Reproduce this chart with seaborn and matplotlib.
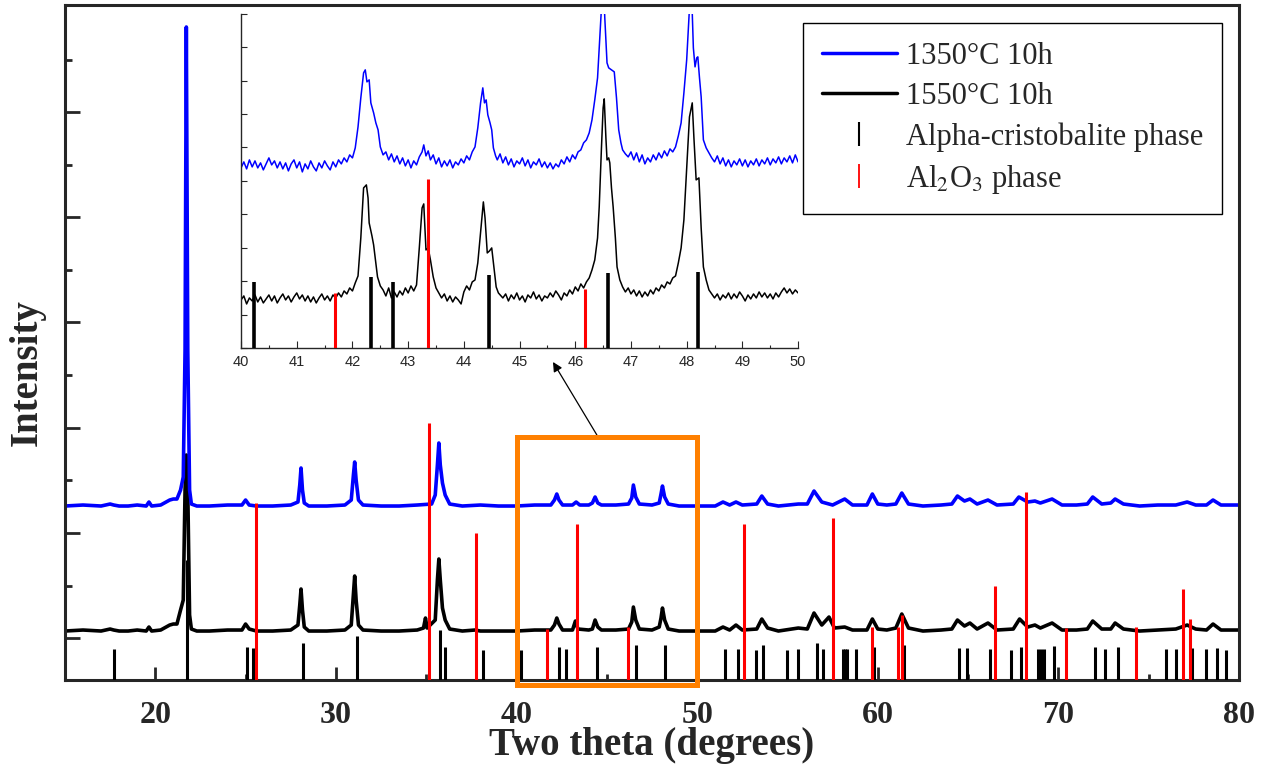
import matplotlib
matplotlib.use("Agg")
import matplotlib.pyplot as plt
import pandas as pd
import seaborn as sns
from matplotlib.lines import Line2D
from matplotlib.patches import Rectangle
from matplotlib.ticker import FixedLocator, MultipleLocator

# ---- data (intensity in arbitrary units) ----
LABEL_LOW = "1350°C 10h"
LABEL_HIGH = "1550°C 10h"

# main pattern, 1350 C sample (offset upward)
MAIN_1350 = [
    (15, 174), (16, 175), (17, 174), (17.5, 176), (17.7, 175), (18, 174), (18.5, 174),
    (19, 175), (19.5, 174), (19.65, 178), (19.8, 174), (20.3, 175), (20.8, 180),
    (21.0, 181), (21.2, 181), (21.4, 190), (21.55, 203), (21.65, 330), (21.72, 653),
    (21.8, 330), (21.9, 190), (22.0, 176), (22.3, 174), (23, 174), (24, 175),
    (24.8, 175), (25.0, 180), (25.2, 175), (25.6, 174), (26.5, 174), (27.5, 175),
    (27.9, 178), (28.0, 195), (28.07, 212), (28.15, 190), (28.25, 177), (28.5, 174),
    (29.5, 174), (30.5, 175), (30.85, 180), (30.97, 205), (31.04, 218), (31.12, 200),
    (31.25, 180), (31.5, 175), (32.5, 174), (33.5, 174), (34.5, 175), (35.3, 176),
    (35.5, 185), (35.62, 215), (35.7, 237), (35.78, 215), (35.9, 197), (36.05, 185),
    (36.3, 176), (37, 174), (38, 175), (39, 174), (40, 174), (41, 175), (41.9, 175),
    (42.1, 180), (42.23, 186), (42.35, 180), (42.55, 175), (43.1, 175), (43.3, 178),
    (43.5, 175), (44.0, 175), (44.2, 177), (44.35, 183), (44.5, 177), (44.7, 175),
    (45.5, 175), (46.2, 176), (46.38, 182), (46.47, 195), (46.6, 183), (46.8, 176),
    (47.5, 175), (47.9, 177), (48.0, 186), (48.08, 194), (48.2, 183), (48.4, 176),
    (49, 174), (50, 174), (51, 174), (51.43, 178), (51.8, 175), (52.15, 178),
    (52.5, 175), (53.3, 176), (53.58, 184), (53.9, 176), (54.5, 174), (55.6, 176),
    (56.1, 176), (56.47, 189), (56.9, 178), (57.5, 175), (58.17, 181), (58.6, 175),
    (59.4, 175), (59.7, 186), (60.0, 176), (60.5, 175), (61.0, 176), (61.33, 187),
    (61.7, 176), (62.5, 174), (63.5, 175), (64.1, 176), (64.41, 184), (64.8, 179),
    (65.1, 181), (65.5, 176), (66.1, 180), (66.6, 175), (67.5, 176), (67.81, 183),
    (68.3, 178), (68.7, 179), (69.0, 177), (69.65, 181), (70.2, 175), (71, 175),
    (71.6, 176), (71.9, 183), (72.4, 176), (72.9, 177), (73.14, 181), (73.6, 176),
    (74.5, 174), (75.5, 175), (76.5, 175), (77.13, 178), (77.6, 175), (78.2, 175),
    (78.56, 180), (79, 175), (80, 175),
]

# main pattern, 1550 C sample
MAIN_1550 = [
    (15, 49), (16, 50), (17, 49), (17.5, 51), (17.7, 50), (18, 49), (18.5, 49),
    (19, 50), (19.5, 49), (19.65, 53), (19.8, 49), (20.3, 50), (20.8, 55),
    (21.0, 56), (21.2, 56), (21.4, 70), (21.55, 80), (21.65, 190), (21.72, 225),
    (21.8, 190), (21.9, 65), (22.0, 51), (22.3, 49), (23, 49), (24, 50), (24.8, 50),
    (25.0, 56), (25.2, 51), (25.6, 49), (26.5, 49), (27.5, 50), (27.9, 55),
    (28.0, 75), (28.07, 91), (28.15, 70), (28.25, 53), (28.5, 49), (29.5, 49),
    (30.5, 50), (30.85, 55), (30.97, 85), (31.04, 104), (31.12, 80), (31.25, 55),
    (31.5, 50), (32.5, 49), (33.5, 49), (34.5, 50), (34.85, 52), (34.96, 62),
    (35.05, 52), (35.5, 60), (35.62, 100), (35.7, 121), (35.78, 100), (35.9, 72),
    (36.05, 60), (36.3, 51), (37, 49), (37.7, 50), (38, 49), (39, 49), (40, 49),
    (41, 50), (41.9, 50), (42.1, 55), (42.23, 62), (42.35, 56), (42.55, 50),
    (43.1, 50), (43.26, 59), (43.4, 51), (44.0, 50), (44.2, 51), (44.35, 60),
    (44.5, 53), (44.7, 50), (45.5, 50), (46.2, 51), (46.38, 58), (46.47, 73),
    (46.6, 60), (46.8, 51), (47.5, 50), (47.9, 53), (48.0, 62), (48.08, 72),
    (48.2, 60), (48.4, 51), (49, 49), (50, 49), (51, 49), (51.43, 53), (51.8, 50),
    (52.15, 55), (52.5, 50), (53.3, 51), (53.58, 61), (53.9, 52), (54.5, 49),
    (55.6, 52), (56.1, 51), (56.47, 67), (56.9, 55), (57.3, 63), (57.6, 52),
    (58.17, 53), (58.6, 50), (59.4, 50), (59.7, 61), (60.0, 51), (60.5, 50),
    (61.0, 52), (61.33, 66), (61.7, 52), (62.5, 49), (63.5, 50), (64.1, 51),
    (64.41, 60), (64.8, 54), (65.1, 57), (65.5, 51), (66.1, 57), (66.6, 50),
    (67.5, 51), (67.85, 61), (68.3, 53), (68.7, 55), (69.0, 52), (69.65, 57),
    (70.2, 50), (71, 50), (71.6, 51), (71.9, 59), (72.4, 51), (72.9, 51),
    (73.14, 57), (73.6, 51), (74.5, 49), (75.5, 50), (76.5, 51), (77.13, 55),
    (77.6, 51), (78.2, 50), (78.56, 56), (79, 50), (80, 50),
]

# reference sticks: position (2theta) and relative height
CRISTO_POS = [17.69, 21.76, 25.07, 25.43, 28.20, 31.15, 35.76, 36.02, 38.12, 40.23,
              42.33, 42.72, 44.45, 46.59, 48.21, 51.55, 52.27, 53.26, 53.62, 54.98,
              55.59, 56.62, 56.95, 58.10, 58.20, 58.30, 58.78, 59.80, 61.45, 64.52,
              64.94, 66.20, 67.38, 67.94, 68.86, 69.05, 69.20, 69.76, 72.00, 72.56,
              73.30, 75.96, 76.50, 77.40, 78.17, 78.76, 79.27]
CRISTO_H = [31, 120, 33, 32, 37, 44, 50, 33, 30, 30,
            33, 31, 33, 35, 35, 31, 31, 30, 35, 30,
            31, 37, 31, 31, 31, 31, 31, 33, 35, 32,
            32, 31, 30, 33, 31, 31, 31, 34, 33, 31,
            33, 31, 31, 32, 31, 32, 30]
ALUMINA_POS = [25.58, 35.13, 37.78, 41.68, 43.33, 46.15, 52.57, 57.50, 59.68, 61.10,
               61.33, 66.51, 68.20, 70.40, 74.30, 76.90, 77.27]
ALUMINA_H = [177, 257, 147, 51, 156, 53, 156, 162, 53, 53,
             65, 94, 188, 52, 53, 91, 61]

# inset (40-50 deg, expanded scale)
INSET_1350 = [
    (40.0, 180), (40.05, 186), (40.1, 179), (40.15, 188), (40.2, 181), (40.25, 187),
    (40.3, 180), (40.35, 185), (40.4, 178), (40.45, 184), (40.5, 190), (40.55, 183),
    (40.6, 187), (40.65, 180), (40.7, 186), (40.75, 179), (40.8, 185), (40.85, 177),
    (40.9, 184), (40.95, 188), (41.0, 180), (41.05, 186), (41.1, 176), (41.15, 184),
    (41.2, 179), (41.25, 187), (41.3, 181), (41.35, 177), (41.4, 185), (41.45, 180),
    (41.5, 187), (41.55, 182), (41.6, 178), (41.65, 186), (41.7, 181), (41.75, 188),
    (41.8, 184), (41.85, 190), (41.9, 186), (41.95, 193), (42.0, 190), (42.05, 200),
    (42.1, 221), (42.15, 250), (42.2, 275), (42.23, 278), (42.26, 266), (42.3, 268),
    (42.33, 245), (42.38, 235), (42.42, 225), (42.46, 218), (42.5, 201), (42.55, 193),
    (42.6, 196), (42.65, 188), (42.7, 194), (42.75, 186), (42.8, 192), (42.85, 184),
    (42.9, 190), (42.95, 182), (43.0, 188), (43.05, 180), (43.1, 187), (43.15, 183),
    (43.2, 191), (43.25, 196), (43.28, 203), (43.32, 192), (43.36, 197), (43.4, 188),
    (43.45, 193), (43.5, 184), (43.55, 190), (43.6, 181), (43.65, 187), (43.7, 182),
    (43.75, 188), (43.8, 180), (43.85, 186), (43.9, 183), (43.95, 189), (44.0, 185),
    (44.05, 192), (44.1, 188), (44.15, 196), (44.2, 201), (44.25, 220), (44.3, 245),
    (44.34, 260), (44.37, 245), (44.4, 248), (44.43, 233), (44.47, 225), (44.5, 218),
    (44.53, 200), (44.57, 192), (44.6, 188), (44.65, 194), (44.7, 185), (44.75, 191),
    (44.8, 183), (44.85, 189), (44.9, 181), (44.95, 187), (45.0, 184), (45.05, 190),
    (45.1, 182), (45.15, 188), (45.2, 180), (45.25, 186), (45.3, 183), (45.35, 189),
    (45.4, 181), (45.45, 186), (45.5, 180), (45.55, 185), (45.6, 179), (45.65, 184),
    (45.7, 181), (45.75, 188), (45.8, 184), (45.85, 191), (45.9, 186), (45.95, 193),
    (46.0, 189), (46.05, 196), (46.1, 198), (46.15, 205), (46.2, 208), (46.25, 215),
    (46.3, 228), (46.35, 248), (46.4, 270), (46.43, 300), (46.47, 340), (46.5, 370),
    (46.53, 330), (46.57, 285), (46.6, 280), (46.65, 278), (46.7, 276), (46.74, 250),
    (46.78, 218), (46.82, 205), (46.85, 198), (46.9, 194), (46.95, 191), (47.0, 196),
    (47.05, 188), (47.1, 195), (47.15, 186), (47.2, 193), (47.25, 184), (47.3, 190),
    (47.35, 186), (47.4, 193), (47.45, 188), (47.5, 195), (47.55, 190), (47.6, 197),
    (47.65, 192), (47.7, 199), (47.75, 196), (47.8, 201), (47.85, 212), (47.9, 225),
    (47.95, 255), (48.0, 288), (48.04, 330), (48.08, 370), (48.12, 300), (48.15, 281),
    (48.18, 290), (48.2, 291), (48.23, 270), (48.26, 251), (48.3, 208), (48.35, 200),
    (48.4, 195), (48.45, 190), (48.5, 186), (48.55, 192), (48.6, 184), (48.65, 190),
    (48.7, 182), (48.75, 188), (48.8, 181), (48.85, 187), (48.9, 183), (48.95, 189),
    (49.0, 182), (49.05, 188), (49.1, 181), (49.15, 187), (49.2, 183), (49.25, 189),
    (49.3, 182), (49.35, 188), (49.4, 184), (49.45, 190), (49.5, 183), (49.55, 189),
    (49.6, 185), (49.65, 191), (49.7, 184), (49.75, 190), (49.8, 186), (49.85, 192),
    (49.9, 185), (49.95, 193), (50.0, 186),
]

INSET_1550 = [
    (40.0, 48), (40.05, 52), (40.1, 44), (40.15, 50), (40.2, 47), (40.25, 53),
    (40.3, 46), (40.35, 51), (40.4, 45), (40.45, 49), (40.5, 53), (40.55, 47),
    (40.6, 52), (40.65, 45), (40.7, 50), (40.75, 54), (40.8, 48), (40.85, 52),
    (40.9, 46), (40.95, 51), (41.0, 55), (41.05, 49), (41.1, 53), (41.15, 47),
    (41.2, 52), (41.25, 46), (41.3, 51), (41.35, 45), (41.4, 50), (41.45, 54),
    (41.5, 48), (41.55, 52), (41.6, 47), (41.65, 53), (41.7, 50), (41.75, 55),
    (41.8, 51), (41.85, 57), (41.9, 54), (41.95, 60), (42.0, 57), (42.05, 65),
    (42.1, 72), (42.15, 110), (42.2, 160), (42.25, 163), (42.28, 150), (42.3, 125),
    (42.35, 112), (42.38, 103), (42.42, 85), (42.45, 71), (42.5, 62), (42.55, 58),
    (42.6, 52), (42.65, 60), (42.7, 50), (42.75, 56), (42.8, 51), (42.85, 57),
    (42.9, 53), (42.95, 60), (43.0, 55), (43.05, 62), (43.1, 57), (43.15, 63),
    (43.2, 100), (43.25, 140), (43.28, 144), (43.32, 98), (43.36, 100), (43.4, 88),
    (43.45, 71), (43.5, 60), (43.55, 55), (43.6, 50), (43.65, 54), (43.7, 47),
    (43.75, 52), (43.8, 46), (43.85, 51), (43.9, 48), (43.95, 44), (44.0, 56),
    (44.05, 62), (44.1, 58), (44.15, 66), (44.2, 68), (44.25, 85), (44.3, 115),
    (44.35, 146), (44.38, 130), (44.42, 95), (44.46, 97), (44.5, 100), (44.54, 80),
    (44.58, 61), (44.62, 55), (44.7, 50), (44.75, 54), (44.8, 47), (44.85, 53),
    (44.9, 49), (44.95, 55), (45.0, 48), (45.05, 52), (45.1, 46), (45.15, 53),
    (45.2, 50), (45.25, 56), (45.3, 49), (45.35, 53), (45.4, 47), (45.45, 52),
    (45.5, 50), (45.55, 55), (45.6, 51), (45.65, 57), (45.7, 53), (45.75, 48),
    (45.8, 55), (45.85, 52), (45.9, 58), (45.95, 54), (46.0, 61), (46.05, 57),
    (46.1, 64), (46.15, 60), (46.2, 66), (46.25, 70), (46.3, 78), (46.35, 88),
    (46.4, 110), (46.43, 141), (46.47, 200), (46.5, 240), (46.52, 249), (46.55, 210),
    (46.57, 188), (46.6, 190), (46.62, 185), (46.65, 160), (46.68, 141), (46.72, 110),
    (46.75, 81), (46.8, 68), (46.85, 61), (46.9, 56), (46.95, 60), (47.0, 54),
    (47.05, 58), (47.1, 52), (47.15, 57), (47.2, 51), (47.25, 56), (47.3, 52),
    (47.35, 58), (47.4, 54), (47.45, 60), (47.5, 57), (47.55, 63), (47.6, 60),
    (47.65, 66), (47.7, 64), (47.75, 70), (47.8, 72), (47.85, 85), (47.9, 100),
    (47.95, 128), (48.0, 180), (48.05, 231), (48.1, 245), (48.13, 210), (48.17, 168),
    (48.22, 170), (48.26, 120), (48.3, 81), (48.35, 68), (48.4, 58), (48.45, 54),
    (48.5, 50), (48.55, 54), (48.6, 48), (48.65, 53), (48.7, 50), (48.75, 55),
    (48.8, 49), (48.85, 54), (48.9, 50), (48.95, 56), (49.0, 52), (49.05, 47),
    (49.1, 53), (49.15, 49), (49.2, 54), (49.25, 50), (49.3, 56), (49.35, 51),
    (49.4, 55), (49.45, 50), (49.5, 54), (49.55, 49), (49.6, 55), (49.65, 51),
    (49.7, 56), (49.75, 60), (49.8, 55), (49.85, 59), (49.9, 54), (49.95, 58),
    (50.0, 55),
]

INSET_CRISTO_POS = [40.23, 42.33, 42.72, 44.45, 46.58, 48.21]
INSET_CRISTO_H = [66, 71, 66, 73, 75, 76]
INSET_ALUMINA_POS = [41.68, 43.36, 46.18]
INSET_ALUMINA_H = [55, 169, 59]

COLORS = {LABEL_LOW: "#0000FF", LABEL_HIGH: "#000000"}
ORANGE = "#FF8000"


def to_frame(points_by_label):
    rows = []
    for label, pts in points_by_label.items():
        for x, y in pts:
            rows.append({"theta": x, "intensity": y, "sample": label})
    return pd.DataFrame(rows)


sns.set_style("ticks")
plt.rcParams["font.family"] = ["Liberation Serif", "DejaVu Serif"]
plt.rcParams["mathtext.fontset"] = "stix"

fig = plt.figure(figsize=(12.66, 7.69), dpi=100)
ax = fig.add_axes([0.0513, 0.1157, 0.9274, 0.8778])

df_main = to_frame({LABEL_LOW: MAIN_1350, LABEL_HIGH: MAIN_1550})
sns.lineplot(data=df_main, x="theta", y="intensity", hue="sample",
             hue_order=[LABEL_HIGH, LABEL_LOW], palette=COLORS,
             estimator=None, sort=False, lw=2.6, legend=False, ax=ax)
ax.vlines(CRISTO_POS, 0, CRISTO_H, color="black", lw=2.2, zorder=3)
ax.vlines(ALUMINA_POS, 0, ALUMINA_H, color="red", lw=2.2, zorder=4)

ax.set_xlim(15, 80)
ax.set_ylim(0, 675)
ax.xaxis.set_major_locator(MultipleLocator(10))
ax.xaxis.set_minor_locator(FixedLocator([25, 35, 45, 55, 65, 75]))
ax.yaxis.set_major_locator(FixedLocator([42 + 105.2 * k for k in range(6)]))
ax.yaxis.set_minor_locator(FixedLocator([94.5 + 105.2 * k for k in range(6)]))
ax.set_yticklabels([])
ax.tick_params(axis="both", which="both", direction="in", width=2, top=False, right=False)
ax.tick_params(axis="x", which="major", length=9.5, pad=15, labelsize=23)
ax.tick_params(axis="x", which="minor", length=4.5)
ax.tick_params(axis="y", which="major", length=11)
ax.tick_params(axis="y", which="minor", length=5)
for lab in ax.get_xticklabels():
    lab.set_fontweight("bold")
for sp in ax.spines.values():
    sp.set_linewidth(2.2)

ax.set_xlabel("Two theta (degrees)", fontsize=28, fontweight="bold")
ax.set_ylabel("Intensity", fontsize=28, fontweight="bold")
ax.xaxis.set_label_coords(0.5, -0.097)
ax.xaxis.label.set_va("center")
ax.yaxis.set_label_coords(-0.032, 0.456)
ax.yaxis.label.set_va("center")

# zoom box and arrow to the inset
ax.add_patch(Rectangle((40, -5), 10, 248, fill=False, edgecolor=ORANGE,
                       lw=3.6, clip_on=False, zorder=5))
ax.annotate("", xy=(0.4368, 0.5293), xycoords="figure fraction",
            xytext=(44.45, 245), textcoords="data",
            arrowprops=dict(arrowstyle="-|>", color="black", lw=0.9,
                            mutation_scale=14, shrinkA=0, shrinkB=0))

# inset
axin = fig.add_axes([0.1904, 0.5475, 0.4400, 0.4345])
axin.set_facecolor("none")
df_in = to_frame({LABEL_LOW: INSET_1350, LABEL_HIGH: INSET_1550})
sns.lineplot(data=df_in, x="theta", y="intensity", hue="sample",
             hue_order=[LABEL_HIGH, LABEL_LOW], palette=COLORS,
             estimator=None, sort=False, lw=1.1, legend=False, ax=axin)
axin.vlines(INSET_CRISTO_POS, 0, INSET_CRISTO_H, color="black", lw=2.6, zorder=3)
axin.vlines(INSET_ALUMINA_POS, 0, INSET_ALUMINA_H, color="red", lw=2.2, zorder=4)
axin.set_xlim(40, 50)
axin.set_ylim(0, 334)
axin.xaxis.set_major_locator(MultipleLocator(1))
axin.xaxis.set_minor_locator(MultipleLocator(0.5))
axin.yaxis.set_major_locator(MultipleLocator(33.4))
axin.set_yticklabels([])
axin.set_xlabel("")
axin.set_ylabel("")
axin.spines["top"].set_visible(False)
axin.spines["right"].set_visible(False)
for sp in ("left", "bottom"):
    axin.spines[sp].set_linewidth(1.0)
axin.tick_params(axis="both", which="both", direction="in", width=0.8)
axin.tick_params(axis="x", which="major", length=5, labelsize=10.5, pad=5)
axin.tick_params(axis="x", which="minor", length=2.5)
axin.tick_params(axis="y", which="major", length=4)
for lab in axin.get_xticklabels():
    lab.set_family(["Liberation Sans", "DejaVu Sans"])

# legend
handles = [
    Line2D([], [], color=COLORS[LABEL_LOW], lw=2.5),
    Line2D([], [], color=COLORS[LABEL_HIGH], lw=2.5),
    Line2D([], [], color="black", marker="|", linestyle="None", markersize=17, markeredgewidth=1.5),
    Line2D([], [], color="red", marker="|", linestyle="None", markersize=17, markeredgewidth=1.3),
]
labels = [LABEL_LOW, LABEL_HIGH, "Alpha-cristobalite phase", "Al$_2$O$_3$ phase"]
leg = fig.legend(handles, labels, loc="upper right", bbox_to_anchor=(0.9653, 0.970),
                 bbox_transform=fig.transFigure, fontsize=22, frameon=True,
                 fancybox=False, edgecolor="black", framealpha=1,
                 handlelength=2.45, handletextpad=0.3, labelspacing=0.36,
                 borderpad=0.62, borderaxespad=0)
leg.get_frame().set_linewidth(1.0)

fig.savefig("out.png", dpi=100)
